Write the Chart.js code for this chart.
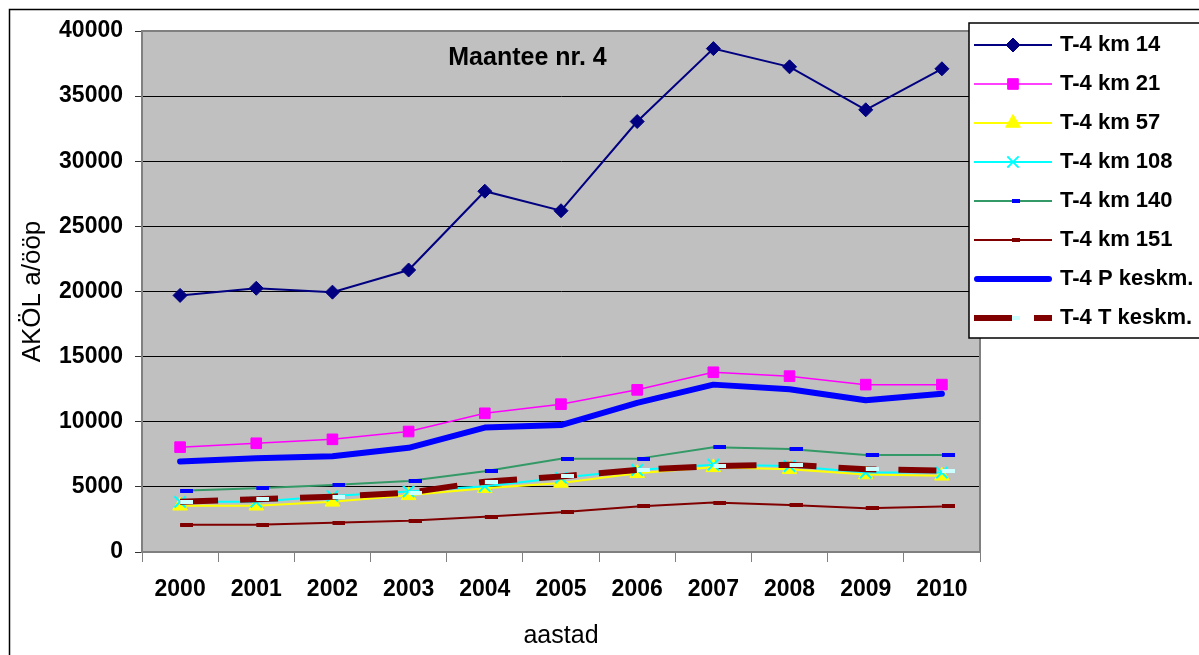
<!DOCTYPE html>
<html>
<head>
<meta charset="utf-8">
<script src="https://cdn.jsdelivr.net/npm/chart.js@4/dist/chart.umd.min.js"></script>
<style>
  body { margin: 0; background: #fff; }
  canvas { display: block; }
</style>
</head>
<body>
<canvas id="chart1" width="1199" height="655"></canvas>
<script>
const years = ['2000', '2001', '2002', '2003', '2004', '2005', '2006', '2007', '2008', '2009', '2010']
const names = ['T-4 km 14', 'T-4 km 21', 'T-4 km 57', 'T-4 km 108', 'T-4 km 140', 'T-4 km 151', 'T-4 P keskm.', 'T-4 T keskm.']

const km14 = [19700, 20250, 19950, 21650, 27700, 26200, 33050, 38650, 37250, 33950, 37100]
const km21 = [8050, 8350, 8650, 9250, 10650, 11350, 12450, 13800, 13500, 12850, 12850]
const km57 = [3550, 3550, 3850, 4350, 4900, 5300, 6050, 6500, 6350, 5950, 5850]
const km108 = [3850, 3850, 4300, 4650, 5050, 5700, 6300, 6700, 6600, 6100, 6100]
const km140 = [4700, 4900, 5150, 5450, 6200, 7150, 7150, 8050, 7900, 7450, 7450]
const km151 = [2100, 2100, 2250, 2400, 2700, 3050, 3500, 3800, 3600, 3350, 3500]
const pKeskm = [6950, 7200, 7350, 8000, 9550, 9750, 11450, 12850, 12500, 11650, 12150]
const tKeskm = [3850, 4050, 4250, 4550, 5400, 5800, 6300, 6600, 6700, 6350, 6250]

const yMax = 40000
const yStep = 5000

const FONT = '"Liberation Sans", Arial, sans-serif'
Chart.defaults.font.family = FONT
Chart.defaults.color = '#000'

// excel style dash marker, drawn from the point to the right
function dashMarker(color) {
  const c = document.createElement('canvas')
  c.width = 26
  c.height = 4
  const g = c.getContext('2d')
  g.fillStyle = color
  g.fillRect(13, 0, 13, 4)
  return c
}

function drawMarker(g, ds, x, y) {
  const s = ds.pointStyle
  const r = ds.pointRadius
  if (!r) return
  if (s instanceof HTMLCanvasElement) {
    g.drawImage(s, 13, 0, 13, 4, x - 1, y - 2, 8, 4)
    return
  }
  g.fillStyle = ds.backgroundColor
  g.strokeStyle = ds.borderColor
  g.lineWidth = ds.pointBorderWidth
  g.beginPath()
  if (s === 'rectRot') {
    g.moveTo(x - r, y); g.lineTo(x, y - r); g.lineTo(x + r, y); g.lineTo(x, y + r); g.closePath()
  } else if (s === 'rect') {
    const h = r * Math.SQRT1_2
    g.rect(x - h, y - h, 2 * h, 2 * h)
  } else if (s === 'triangle') {
    g.moveTo(x, y - r); g.lineTo(x + r * 0.866, y + r / 2); g.lineTo(x - r * 0.866, y + r / 2); g.closePath()
  } else if (s === 'crossRot') {
    const d = r * Math.SQRT1_2
    g.moveTo(x - d, y - d); g.lineTo(x + d, y + d); g.moveTo(x + d, y - d); g.lineTo(x - d, y + d)
  }
  if (s !== 'crossRot') g.fill()
  g.stroke()
}

// line + marker sample for the legend
function legendSample(ds) {
  const c = document.createElement('canvas')
  c.width = 78
  c.height = 22
  const g = c.getContext('2d')
  g.strokeStyle = ds.borderColor
  g.lineWidth = ds.borderWidth
  g.lineCap = ds.borderCapStyle || 'butt'
  g.setLineDash(ds.borderDash || [])
  g.beginPath()
  const inset = g.lineCap === 'round' ? 3 : 0
  g.moveTo(inset, 11)
  g.lineTo(78 - inset, 11)
  g.stroke()
  g.setLineDash([])
  drawMarker(g, ds, 39, 11)
  return c
}

const datasets = [
  { label: names[0], data: km14, borderColor: '#000080', backgroundColor: '#000080', borderWidth: 2, pointStyle: 'rectRot', pointRadius: 7, pointBorderWidth: 1 },
  { label: names[1], data: km21, borderColor: '#ff00ff', backgroundColor: '#ff00ff', borderWidth: 1.5, pointStyle: 'rect', pointRadius: 7.5, pointBorderWidth: 1 },
  { label: names[2], data: km57, borderColor: '#ffff00', backgroundColor: '#ffff00', borderWidth: 2, pointStyle: 'triangle', pointRadius: 8.5, pointBorderWidth: 1 },
  { label: names[3], data: km108, borderColor: '#00ffff', backgroundColor: '#00ffff', borderWidth: 2, pointStyle: 'crossRot', pointRadius: 8, pointBorderWidth: 2 },
  { label: names[4], data: km140, borderColor: '#339966', backgroundColor: '#0000ff', borderWidth: 2, pointStyle: dashMarker('#0000ff'), pointRadius: 5 },
  { label: names[5], data: km151, borderColor: '#800000', backgroundColor: '#800000', borderWidth: 2, pointStyle: dashMarker('#800000'), pointRadius: 5 },
  { label: names[6], data: pKeskm, borderColor: '#0000ff', backgroundColor: '#0000ff', borderWidth: 6, pointRadius: 0, borderCapStyle: 'round', borderJoinStyle: 'round' },
  { label: names[7], data: tKeskm, borderColor: '#800000', backgroundColor: '#ccffff', borderWidth: 6, borderDash: [38, 22], pointStyle: dashMarker('#ccffff'), pointRadius: 5 }
]
// later series on top, like excel
datasets.forEach((ds, i) => { ds.order = datasets.length - i; ds.tension = 0 })

const excelLook = {
  id: 'excelLook',
  afterLayout(chart) {
    chart.legend.left -= 20
    chart.legend.top -= 14
  },
  beforeDraw(chart) {
    const { ctx, chartArea: a } = chart
    ctx.save()
    ctx.fillStyle = '#c0c0c0'
    ctx.fillRect(a.left, a.top, a.width, a.height)
    ctx.restore()
  },
  beforeDatasetsDraw(chart) {
    const { ctx, chartArea: a } = chart
    ctx.save()
    ctx.strokeStyle = '#808080'
    ctx.lineWidth = 2
    ctx.beginPath()
    ctx.moveTo(a.left, a.top)
    ctx.lineTo(a.right, a.top)
    ctx.lineTo(a.right, a.bottom)
    ctx.stroke()
    ctx.restore()
  },
  afterDatasetsDraw(chart) {
    const { ctx, chartArea: a } = chart
    ctx.save()
    ctx.font = 'bold 25px ' + FONT
    ctx.fillStyle = '#000'
    ctx.textAlign = 'center'
    ctx.textBaseline = 'middle'
    ctx.fillText('Maantee nr. 4', a.left + a.width * 0.46, a.top + 27)
    ctx.restore()
  },
  afterDraw(chart) {
    const { ctx, width, height } = chart
    const lg = chart.legend
    ctx.save()
    // legend box over the plot edge
    const bx = lg.left + 9
    const by = lg.top + 6
    ctx.fillStyle = '#fff'
    ctx.fillRect(bx, by, width - bx + 10, 315)
    ctx.strokeStyle = '#000'
    ctx.lineWidth = 1.5
    ctx.strokeRect(bx, by, width - bx + 10, 315)
    ctx.restore()
    lg.draw()
    // outer chart border
    ctx.save()
    ctx.strokeStyle = '#000'
    ctx.lineWidth = 1.5
    ctx.beginPath()
    ctx.moveTo(9.5, height + 5)
    ctx.lineTo(9.5, 9.5)
    ctx.lineTo(width + 5, 9.5)
    ctx.stroke()
    ctx.restore()
  }
}

new Chart('chart1', {
  type: 'line',
  data: { labels: years, datasets },
  options: {
    responsive: false,
    animation: false,
    events: [],
    layout: { padding: { left: 10, top: 31, right: 0, bottom: 0 } },
    scales: {
      x: {
        offset: true,
        grid: { offset: true, drawOnChartArea: false, tickLength: 10, color: '#808080' },
        border: { color: '#808080', width: 2 },
        ticks: { font: { size: 23, weight: 'bold' }, padding: 14, maxRotation: 0 },
        title: { display: true, text: 'aastad', font: { size: 25 }, padding: { top: 0, bottom: 4 } },
        afterFit: scale => { scale.height = 103 }
      },
      y: {
        min: 0,
        max: yMax,
        ticks: { stepSize: yStep, font: { size: 23, weight: 'bold' }, padding: 12, callback: v => String(v) },
        grid: { color: '#000', lineWidth: 1, tickLength: 7, tickColor: '#333' },
        border: { color: '#808080', width: 2 },
        title: { display: true, text: 'AKÖL a/ööp', font: { size: 26 }, padding: { top: 7, bottom: 0 } },
        afterFit: scale => { scale.width = 132 }
      }
    },
    plugins: {
      tooltip: { enabled: false },
      legend: {
        position: 'right',
        align: 'start',
        maxWidth: 219,
        labels: {
          usePointStyle: true,
          pointStyleWidth: 72,
          padding: 17,
          font: { size: 22, weight: 'bold' },
          color: '#000',
          generateLabels: chart => chart.data.datasets.map((ds, i) => ({
            text: ds.label,
            pointStyle: legendSample(ds),
            datasetIndex: i,
            hidden: false,
            lineWidth: 0,
            fillStyle: 'transparent',
            strokeStyle: 'transparent',
            fontColor: '#000'
          }))
        }
      }
    }
  },
  plugins: [excelLook]
})
</script>
</body>
</html>
